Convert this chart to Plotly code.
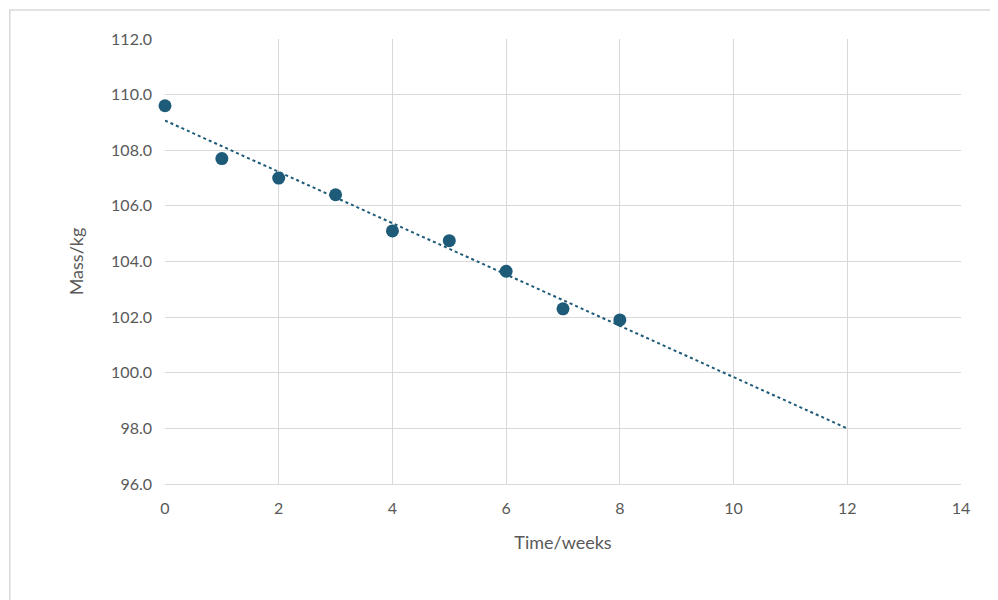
import numpy as np
import plotly.graph_objects as go

weeks = [0, 1, 2, 3, 4, 5, 6, 7, 8]
mass = [109.6, 107.7, 107.0, 106.4, 105.1, 104.75, 103.65, 102.3, 101.9]
trend_x = [0, 12]

slope, intercept = np.polyfit(weeks, mass, 1)
trend_y = [slope * x + intercept for x in trend_x]

colour = "#1e5b78"
grey = "#595959"

fig = go.Figure()
fig.add_trace(go.Scatter(x=trend_x, y=trend_y, mode="lines",
                         line=dict(color=colour, width=2, dash="dot"), hoverinfo="skip"))
fig.add_trace(go.Scatter(x=weeks, y=mass, mode="markers", cliponaxis=False,
                         marker=dict(color=colour, size=13)))

family = "Lato, Liberation Sans, sans-serif"
axis_font = dict(family=family, size=16, color=grey)
fig.update_layout(
    width=998, height=600,
    margin=dict(l=157, r=45, t=31, b=124),
    showlegend=False,
    plot_bgcolor="white", paper_bgcolor="white",
    font=axis_font,
    xaxis=dict(range=[0, 14], dtick=2, showgrid=True, gridcolor="#d9d9d9",
               linecolor="#d9d9d9", zeroline=False, tickfont=axis_font, automargin=False,
               ticklabelstandoff=10,
               title=dict(text="Time/weeks", font=dict(size=18, color=grey, family=family), standoff=20)),
    yaxis=dict(range=[96, 112], dtick=2, tickformat=".1f", showgrid=True, gridcolor="#d9d9d9",
               zeroline=False, tickfont=axis_font, automargin=False, ticklabelstandoff=12,
               title=dict(text="Mass/kg", font=dict(size=18, color=grey, family=family), standoff=22)),
    shapes=[dict(type="rect", xref="paper", yref="paper", x0=-0.195, x1=1.052, y0=-0.272, y1=1.065,
                 line=dict(color="#d9d9d9", width=1.5))],
)
fig.write_html("out.html")
